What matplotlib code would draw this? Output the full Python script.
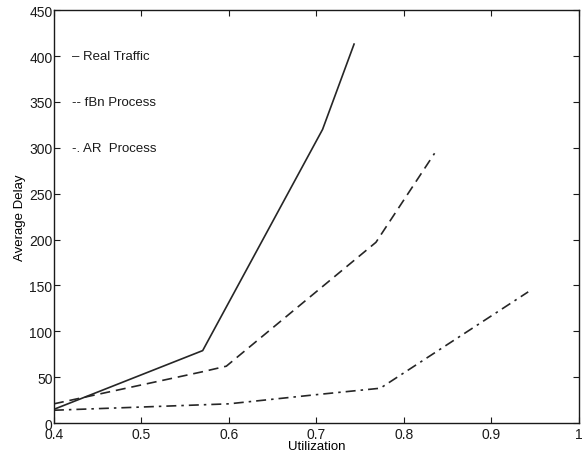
import matplotlib.pyplot as plt

plt.rcParams['font.family'] = ['Liberation Sans', 'DejaVu Sans']

# delay vs utilization for the three traffic models
real_x = [0.40, 0.570, 0.707, 0.743]
real_y = [15, 79, 320, 413]

fbn_x = [0.40, 0.570, 0.597, 0.768, 0.835]
fbn_y = [21, 56, 62, 197, 294]

ar_x = [0.40, 0.60, 0.70, 0.773, 0.942]
ar_y = [14, 21, 31, 38, 143]

legend_text = ['\u2013 Real Traffic', '-- fBn Process', '-. AR  Process']
legend_y = [400, 350, 300]

fig = plt.figure(figsize=(5.86, 4.64), dpi=100)
ax = fig.add_axes([0.092, 0.086, 0.896, 0.890])

ink = '#262626'
ax.plot(real_x, real_y, color=ink, lw=1.2, ls='-')
ax.plot(fbn_x, fbn_y, color=ink, lw=1.2, ls=(0, (6, 3.5)))
ax.plot(ar_x, ar_y, color=ink, lw=1.2, ls=(0, (6, 3, 1.5, 3)))

for txt, yy in zip(legend_text, legend_y):
    ax.text(0.421, yy, txt, fontsize=9.5, va='center', ha='left', color='#1a1a1a')

ax.set_xlim(0.4, 1.0)
ax.set_ylim(0, 450)
ax.set_xticks([0.4, 0.5, 0.6, 0.7, 0.8, 0.9, 1.0])
ax.set_xticklabels(['0.4', '0.5', '0.6', '0.7', '0.8', '0.9', '1'])
ax.set_yticks(range(0, 451, 50))
ax.tick_params(direction='in', length=4, width=0.8, top=True, right=True,
               labelsize=10, colors='#1a1a1a')
ax.tick_params(axis='x', pad=3)
ax.tick_params(axis='y', pad=1)
for s in ax.spines.values():
    s.set_linewidth(1.0)
    s.set_color('#1a1a1a')

ax.set_xlabel('Utilization', fontsize=9.5, labelpad=-1)
ax.set_ylabel('Average Delay', fontsize=9.5, labelpad=2)

fig.savefig('out.png', dpi=100)
